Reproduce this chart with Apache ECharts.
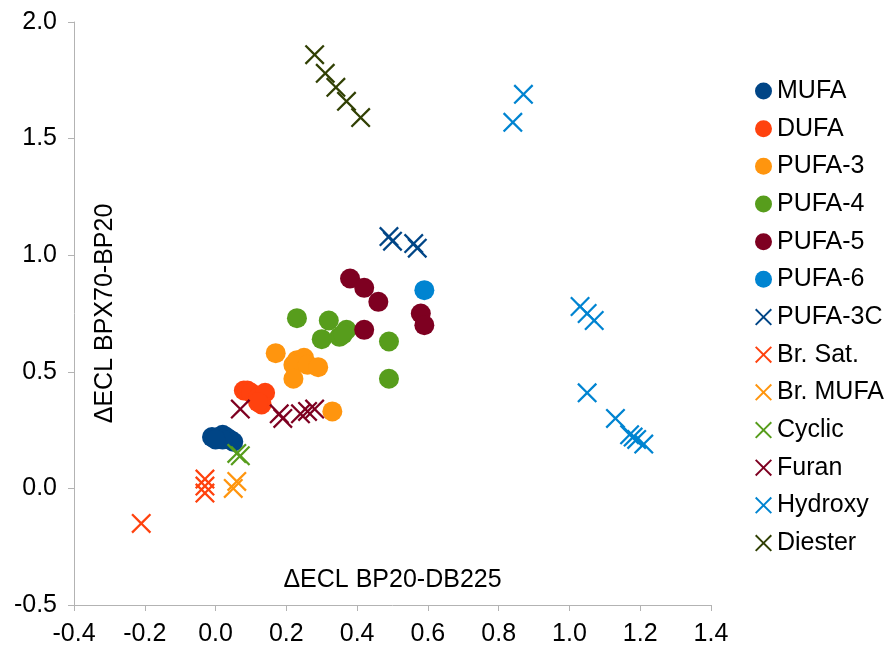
<!DOCTYPE html>
<html>
<head>
<meta charset="utf-8">
<script src="https://cdn.jsdelivr.net/npm/echarts@6/dist/echarts.min.js"></script>
<style>
  html, body { margin: 0; padding: 0; background: #fff; }
  #chart { width: 893px; height: 651px; }
</style>
</head>
<body>
<div id="chart"></div>
<script>
// ΔECL differences between stationary phases, grouped by fatty acid class
const groupNames = ['MUFA', 'DUFA', 'PUFA-3', 'PUFA-4', 'PUFA-5', 'PUFA-6',
  'PUFA-3C', 'Br. Sat.', 'Br. MUFA', 'Cyclic', 'Furan', 'Hydroxy', 'Diester'];

const mufa = [[-0.01, 0.22], [0.01, 0.22], [0.02, 0.23], [0.03, 0.22], [0.04, 0.21], [0.05, 0.20], [0.02, 0.21], [0.00, 0.21]];
const dufa = [[0.08, 0.42], [0.09, 0.42], [0.10, 0.41], [0.12, 0.39], [0.14, 0.41], [0.13, 0.36], [0.12, 0.37]];
const pufa3 = [[0.17, 0.58], [0.23, 0.55], [0.25, 0.56], [0.22, 0.53], [0.26, 0.53], [0.29, 0.52], [0.22, 0.47], [0.33, 0.33]];
const pufa4 = [[0.23, 0.73], [0.32, 0.72], [0.37, 0.68], [0.35, 0.65], [0.36, 0.66], [0.30, 0.64], [0.49, 0.63], [0.49, 0.47]];
const pufa5 = [[0.38, 0.90], [0.42, 0.86], [0.46, 0.80], [0.42, 0.68], [0.58, 0.75], [0.59, 0.70]];
const pufa6 = [[0.59, 0.85]];
const pufa3c = [[0.49, 1.08], [0.50, 1.06], [0.56, 1.05], [0.57, 1.03]];
const brSat = [[-0.21, -0.15], [-0.03, 0.04], [-0.03, 0.01], [-0.03, -0.02]];
const brMufa = [[0.06, 0.03], [0.05, 0.00]];
const cyclic = [[0.06, 0.15], [0.07, 0.14]];
const furan = [[0.07, 0.34], [0.18, 0.32], [0.19, 0.30], [0.24, 0.32], [0.26, 0.33], [0.28, 0.34]];
const hydroxy = [[0.87, 1.69], [0.84, 1.57], [1.03, 0.78], [1.05, 0.75], [1.07, 0.72], [1.05, 0.41],
  [1.13, 0.30], [1.17, 0.23], [1.18, 0.22], [1.19, 0.21], [1.21, 0.19]];
const diester = [[0.28, 1.86], [0.31, 1.78], [0.34, 1.72], [0.37, 1.66], [0.41, 1.59]];

const groupData = [mufa, dufa, pufa3, pufa4, pufa5, pufa6, pufa3c, brSat, brMufa, cyclic, furan, hydroxy, diester];
const groupColors = ['#004586', '#ff420e', '#ff950e', '#579d1c', '#7e0021', '#0084d1',
  '#004586', '#ff420e', '#ff950e', '#579d1c', '#7e0021', '#0084d1', '#314004'];
const groupIsCross = [false, false, false, false, false, false, true, true, true, true, true, true, true];

const xTicks = { min: -0.4, max: 1.4, step: 0.2 };
const yTicks = { min: -0.5, max: 2.0, step: 0.5 };

// filled "×" outline so it renders the same in the plot and the legend
const crossPath = 'path://M0,8L8,0L50,42L92,0L100,8L58,50L100,92L92,100L50,58L8,100L0,92L42,50Z';

const fmt = v => (Math.abs(v) < 1e-9 ? 0 : v).toFixed(1);
const axisColor = '#b3b3b3';
const font = '"Liberation Sans", Arial, sans-serif';
const fontSize = 25;

const series = groupNames.map((name, i) => ({
  name: name,
  type: 'scatter',
  data: groupData[i],
  symbol: groupIsCross[i] ? crossPath : 'circle',
  symbolSize: 20,
  itemStyle: { color: groupColors[i], opacity: 1 },
  emphasis: { disabled: true }
}));

const chart = echarts.init(document.getElementById('chart'), null, { renderer: 'canvas' });
chart.setOption({
  animation: false,
  backgroundColor: '#ffffff',
  textStyle: { fontFamily: font },
  grid: { left: 74, right: 182, top: 22, bottom: 46, containLabel: false },
  xAxis: {
    type: 'value',
    min: xTicks.min, max: xTicks.max, interval: xTicks.step,
    name: 'ΔECL BP20-DB225',
    nameLocation: 'middle',
    nameGap: -25,
    nameTextStyle: { color: '#000', fontSize: fontSize, fontFamily: font, verticalAlign: 'middle' },
    axisLine: { onZero: false, lineStyle: { color: axisColor, width: 1 } },
    axisTick: { show: true, length: 6, lineStyle: { color: axisColor } },
    axisLabel: { color: '#000', fontSize: fontSize, fontFamily: font, margin: 17, formatter: fmt },
    splitLine: { show: false }
  },
  yAxis: {
    type: 'value',
    min: yTicks.min, max: yTicks.max, interval: yTicks.step,
    name: 'ΔECL BPX70-BP20',
    nameLocation: 'middle',
    nameGap: -31,
    nameTextStyle: { color: '#000', fontSize: fontSize, fontFamily: font, verticalAlign: 'middle' },
    axisLine: { onZero: false, lineStyle: { color: axisColor, width: 1 } },
    axisTick: { show: true, length: 6, lineStyle: { color: axisColor } },
    axisLabel: { color: '#000', fontSize: fontSize, fontFamily: font, margin: 17, formatter: fmt },
    splitLine: { show: false }
  },
  legend: {
    orient: 'vertical',
    left: 750,
    top: 73.5,
    itemWidth: 17,
    itemHeight: 17,
    itemGap: 12.67,
    selectedMode: false,
    textStyle: { color: '#000', fontSize: fontSize, fontFamily: font, lineHeight: 25 },
    data: groupNames.map((n, i) => ({
      name: n,
      icon: groupIsCross[i] ? crossPath : 'circle'
    }))
  },
  series: series
});
</script>
</body>
</html>
